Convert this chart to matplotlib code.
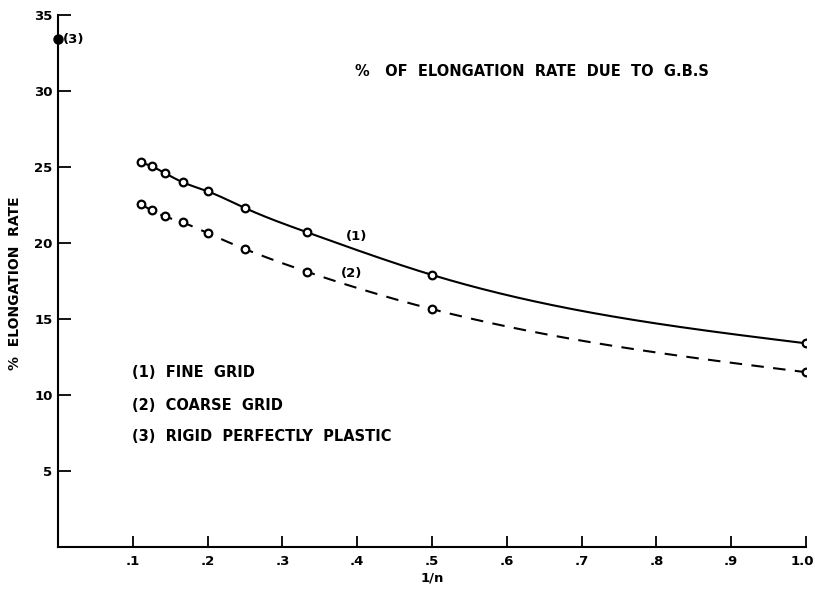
import numpy as np
import matplotlib
matplotlib.use('Agg')
import matplotlib.pyplot as plt
import matplotlib.transforms as mtransforms

# n values of the runs, plotted against 1/n
n_values = [9, 8, 7, 6, 5, 4, 3, 2, 1]
fine_grid = [25.3, 25.05, 24.6, 24.0, 23.4, 22.3, 20.7, 17.9, 13.4]
coarse_grid = [22.55, 22.15, 21.75, 21.35, 20.65, 19.6, 18.1, 15.65, 11.5]
rigid_plastic = 33.4

x_ticks = [0.1, 0.2, 0.3, 0.4, 0.5, 0.6, 0.7, 0.8, 0.9, 1.0]
x_ticklabels = ['.1', '.2', '.3', '.4', '.5', '.6', '.7', '.8', '.9', '1.0']
y_ticks = [5, 10, 15, 20, 25, 30, 35]


def natural_spline(x, y, num=300):
    # natural cubic spline through the points, only for drawing a smooth line
    x = np.asarray(x, float)
    y = np.asarray(y, float)
    k = len(x)
    h = np.diff(x)
    A = np.zeros((k, k))
    b = np.zeros(k)
    A[0, 0] = A[-1, -1] = 1
    for i in range(1, k - 1):
        A[i, i - 1] = h[i - 1]
        A[i, i] = 2 * (h[i - 1] + h[i])
        A[i, i + 1] = h[i]
        b[i] = 3 * ((y[i + 1] - y[i]) / h[i] - (y[i] - y[i - 1]) / h[i - 1])
    c = np.linalg.solve(A, b)
    xs = np.linspace(x[0], x[-1], num)
    idx = np.clip(np.searchsorted(x, xs) - 1, 0, k - 2)
    dx = xs - x[idx]
    bb = (y[idx + 1] - y[idx]) / h[idx] - h[idx] * (2 * c[idx] + c[idx + 1]) / 3
    dd = (c[idx + 1] - c[idx]) / (3 * h[idx])
    ys = y[idx] + bb * dx + c[idx] * dx ** 2 + dd * dx ** 3
    return xs, ys


x = 1.0 / np.array(n_values, float)
order = np.argsort(x)

fig = plt.figure(figsize=(8.15, 5.89), dpi=100)
ax = fig.add_axes([58 / 815, 1 - 547 / 589, 748 / 815, 532 / 589])

xs, ys = natural_spline(x[order], np.array(fine_grid)[order])
ax.plot(xs, ys, color='black', lw=1.5)
xs, ys = natural_spline(x[order], np.array(coarse_grid)[order])
ax.plot(xs, ys, color='black', lw=1.5, dashes=(6, 4.5))

ax.plot(x, fine_grid, 'o', ms=5.5, mfc='white', mec='black', mew=1.6, zorder=3)
ax.plot(x, coarse_grid, 'o', ms=5.5, mfc='white', mec='black', mew=1.6, zorder=3)
ax.plot([0], [rigid_plastic], 'o', ms=6.5, color='black', clip_on=False, zorder=4)

txt = dict(fontweight='bold', family='DejaVu Sans', va='center')
ax.text(0.007, rigid_plastic, '(3)', ha='left', fontsize=9.5, **txt)
ax.text(0.399, 20.45, '(1)', ha='center', fontsize=9.5, **txt)
ax.text(0.392, 18.0, '(2)', ha='center', fontsize=9.5, **txt)
ax.text(0.397, 31.27, '%   OF  ELONGATION  RATE  DUE  TO  G.B.S', ha='left',
        fontsize=10.5, **txt)
ax.text(0.099, 11.45, '(1)  FINE  GRID', ha='left', fontsize=10.5, **txt)
ax.text(0.099, 9.3, '(2)  COARSE  GRID', ha='left', fontsize=10.5, **txt)
ax.text(0.099, 7.3, '(3)  RIGID  PERFECTLY  PLASTIC', ha='left', fontsize=10.5, **txt)

ax.set_xlim(0, 1.0)
ax.set_ylim(0, 35)
ax.set_xticks(x_ticks)
ax.set_xticklabels(x_ticklabels)
ax.set_yticks(y_ticks)
for s in ['top', 'right']:
    ax.spines[s].set_visible(False)
for s in ['left', 'bottom']:
    ax.spines[s].set_linewidth(1.5)
ax.tick_params(axis='both', direction='in', length=9, width=1.3,
               labelsize=9.5, pad=4)
ax.tick_params(axis='x', length=8, pad=6)
for lab in ax.get_xticklabels() + ax.get_yticklabels():
    lab.set_fontweight('bold')
# keep the last x label inside the figure
last = ax.get_xticklabels()[-1]
last.set_transform(last.get_transform() +
                   mtransforms.ScaledTranslation(-3 / 72, 0, fig.dpi_scale_trans))

ax.set_xlabel('1/n', fontsize=9.5, fontweight='bold', labelpad=2)
fig.text(15 / 815, 1 - 283 / 589, '%  ELONGATION  RATE', rotation=90,
         fontsize=10, fontweight='bold', ha='center', va='center')

plt.savefig('out.png', dpi=100)
plt.close()
